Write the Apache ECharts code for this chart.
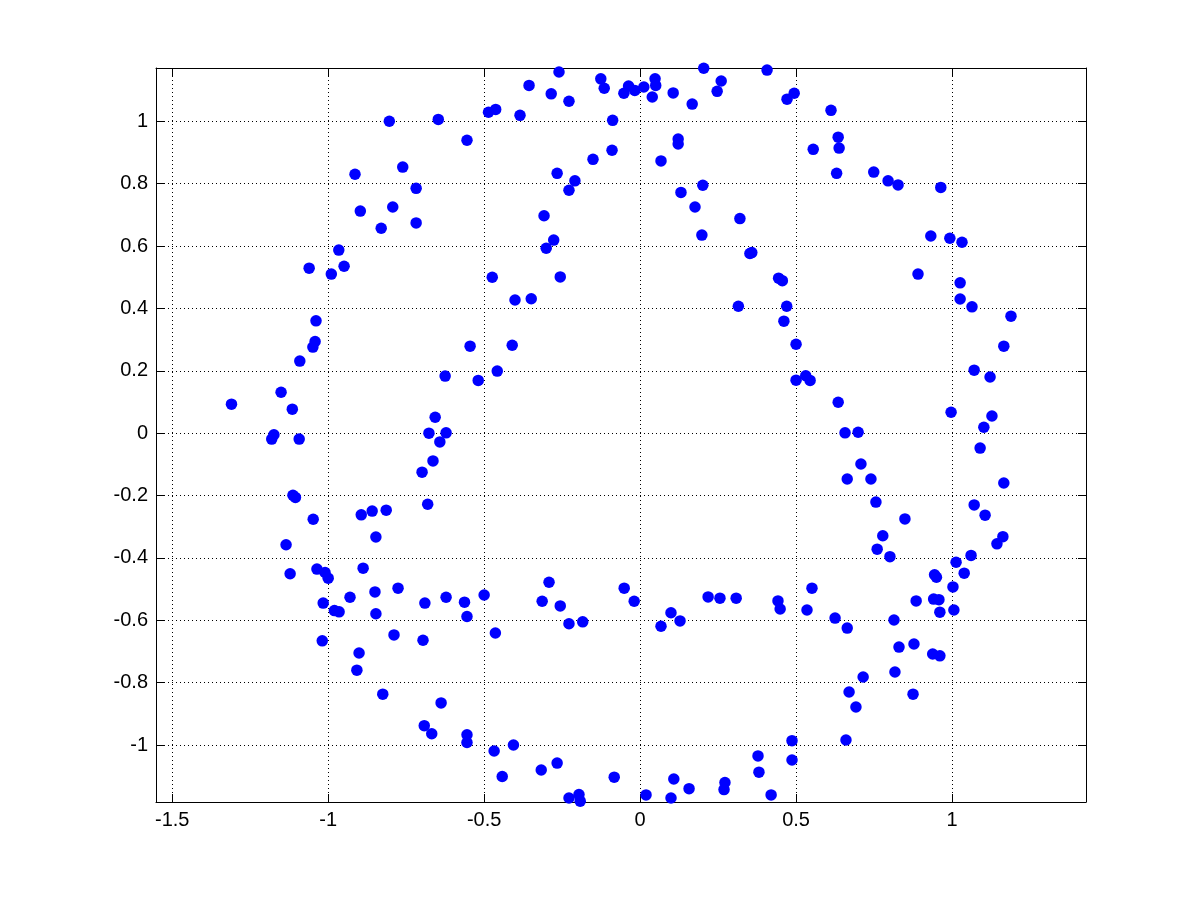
<!DOCTYPE html>
<html>
<head>
    <meta charset="utf-8">
    <script src="https://cdn.jsdelivr.net/npm/echarts@6/dist/echarts.min.js"></script>
    <style>
        html, body { margin: 0; padding: 0; background: #fff; }
    </style>
</head>
<body>
<div id="main" style="width: 1201px;height:901px;"></div>
<script type="text/javascript">
    // axis ranges and ticks
    var xRange = [-1.552, 1.4295];
    var yRange = [-1.1827, 1.1708];
    var xTicks = [-1.5, -1, -0.5, 0, 0.5, 1];
    var yTicks = [-1, -0.8, -0.6, -0.4, -0.2, 0, 0.2, 0.4, 0.6, 0.8, 1];

    // scattered points [x, y]
    var points = [
        [-0.804, 1.000], [-0.647, 1.006], [-0.555, 0.939], [-0.761, 0.853], [-0.914, 0.830],
        [-0.718, 0.785], [-0.793, 0.725], [-0.897, 0.712], [-0.830, 0.657], [-0.718, 0.674],
        [-0.966, 0.587], [-0.949, 0.535], [-1.061, 0.529], [-0.990, 0.510],
        [-0.260, 1.158], [-0.356, 1.115], [-0.285, 1.088], [-0.228, 1.064], [-0.126, 1.136],
        [-0.115, 1.106], [-0.037, 1.113], [-0.052, 1.090], [-0.017, 1.099], [0.012, 1.110],
        [0.048, 1.136], [0.050, 1.115], [0.039, 1.078], [0.106, 1.091], [0.167, 1.055],
        [0.204, 1.170], [0.260, 1.129], [0.247, 1.096], [0.407, 1.164], [0.471, 1.071],
        [0.494, 1.090], [-0.486, 1.029], [-0.463, 1.038], [-0.385, 1.019], [-0.088, 1.003],
        [0.122, 0.943], [0.122, 0.927], [-0.090, 0.907], [-0.151, 0.878], [0.067, 0.873],
        [-0.266, 0.833], [-0.209, 0.809], [-0.228, 0.779], [0.201, 0.795], [0.131, 0.772],
        [0.176, 0.725], [-0.308, 0.697], [0.320, 0.688], [-0.277, 0.619], [-0.301, 0.593],
        [0.198, 0.635], [0.352, 0.576], [0.358, 0.579], [-0.474, 0.500], [-0.401, 0.427],
        [-0.349, 0.431], [-0.256, 0.501], [0.315, 0.407], [0.444, 0.497], [0.456, 0.489],
        [0.470, 0.407],
        [0.612, 1.035], [0.635, 0.949], [0.638, 0.914], [0.555, 0.910], [0.630, 0.833],
        [0.749, 0.837], [0.795, 0.809], [0.827, 0.796], [0.964, 0.788], [0.932, 0.632],
        [0.993, 0.625], [1.032, 0.612], [0.891, 0.510], [1.026, 0.482], [1.026, 0.430],
        [1.064, 0.405],
        [-1.039, 0.360], [-1.042, 0.294], [-1.049, 0.276], [-1.091, 0.231], [-0.545, 0.279],
        [-0.625, 0.183], [-1.310, 0.093], [-1.151, 0.131], [-1.115, 0.077], [-1.174, -0.005],
        [-1.181, -0.019], [-1.093, -0.019], [-0.657, 0.051], [-0.677, 0.000], [-0.622, 0.001],
        [-0.642, -0.028], [-0.664, -0.089], [-0.699, -0.125], [-1.113, -0.199], [-1.105, -0.206],
        [-0.681, -0.228], [-1.048, -0.276], [-0.894, -0.262], [-0.859, -0.250], [-0.814, -0.247],
        [-0.847, -0.333], [-1.135, -0.358],
        [-0.410, 0.282], [-0.458, 0.199], [-0.519, 0.169], [0.461, 0.359],
        [1.189, 0.375], [0.500, 0.285], [1.166, 0.279], [0.500, 0.170], [0.531, 0.184],
        [0.545, 0.169], [1.071, 0.202], [1.122, 0.180], [0.635, 0.099], [0.997, 0.067],
        [1.128, 0.055], [1.102, 0.019], [0.657, 0.001], [0.699, 0.003], [1.090, -0.048],
        [0.708, -0.099], [0.664, -0.147], [0.740, -0.147], [1.166, -0.160], [0.756, -0.221],
        [0.849, -0.275], [1.071, -0.230], [1.106, -0.263], [0.778, -0.329], [0.760, -0.372],
        [0.801, -0.396], [1.163, -0.332], [1.144, -0.355], [1.061, -0.392],
        [-1.122, -0.451], [-1.036, -0.436], [-1.010, -0.447], [-1.000, -0.465], [-0.888, -0.433],
        [-1.016, -0.545], [-0.980, -0.569], [-0.965, -0.573], [-0.930, -0.526], [-0.850, -0.509],
        [-0.776, -0.497], [-0.847, -0.579], [-0.690, -0.545], [-0.622, -0.526], [-0.563, -0.542],
        [-0.555, -0.588], [-1.019, -0.666], [-0.789, -0.647], [-0.696, -0.664], [-0.901, -0.705],
        [-0.908, -0.760], [-0.825, -0.837], [-0.638, -0.865], [-0.692, -0.938], [-0.668, -0.964],
        [-0.555, -0.967], [-0.555, -0.992],
        [-0.500, -0.519], [-0.464, -0.641], [-0.292, -0.478], [-0.314, -0.539], [-0.256, -0.554],
        [-0.228, -0.611], [-0.184, -0.605], [-0.051, -0.497], [-0.019, -0.539], [0.099, -0.576],
        [0.067, -0.619], [0.128, -0.602], [0.218, -0.525], [0.256, -0.529], [0.308, -0.529],
        [0.442, -0.538], [0.449, -0.564], [-0.468, -1.019], [-0.406, -1.000], [-0.442, -1.101],
        [-0.317, -1.080], [-0.266, -1.058], [-0.228, -1.170], [-0.196, -1.159], [-0.192, -1.180],
        [-0.083, -1.103], [0.019, -1.160], [0.099, -1.170], [0.108, -1.109], [0.157, -1.140],
        [0.272, -1.120], [0.269, -1.143], [0.378, -1.035], [0.381, -1.087], [0.420, -1.160],
        [1.013, -0.414], [1.039, -0.449], [0.944, -0.454], [0.950, -0.462], [1.003, -0.493],
        [0.551, -0.497], [0.535, -0.567], [0.625, -0.593], [0.664, -0.625], [0.814, -0.599],
        [0.885, -0.538], [0.941, -0.532], [0.958, -0.534], [0.961, -0.574], [1.006, -0.567],
        [0.830, -0.686], [0.878, -0.676], [0.938, -0.708], [0.961, -0.714], [0.715, -0.782],
        [0.817, -0.766], [0.670, -0.830], [0.692, -0.878], [0.875, -0.837], [0.487, -0.986],
        [0.660, -0.984], [0.487, -1.048]
    ];

    var myChart = echarts.init(document.getElementById('main'));

    var labelFont = {
        color: '#000',
        fontFamily: 'Liberation Sans, Arial, sans-serif',
        fontSize: 20
    };
    var gridDots = { show: true, lineStyle: { color: '#000', width: 1, type: [1, 3] } };

    function makeAxis(range, ticks, pos, main) {
        return {
            type: 'value',
            position: pos,
            min: range[0],
            max: range[1],
            axisLine: { show: true, onZero: false, lineStyle: { color: '#000', width: 1 } },
            axisTick: { show: true, inside: true, length: 8, customValues: ticks, lineStyle: { color: '#000' } },
            axisLabel: main ? Object.assign({ show: true, margin: 8, customValues: ticks }, labelFont) : { show: false },
            splitLine: main ? gridDots : { show: false }
        };
    }

    var option = {
        animation: false,
        backgroundColor: '#fff',
        grid: {
            left: 156, right: 115, top: 68, bottom: 99,
            containLabel: false,
            outerBoundsMode: 'none'
        },
        xAxis: [
            makeAxis(xRange, xTicks, 'bottom', true),
            makeAxis(xRange, xTicks, 'top', false)
        ],
        yAxis: [
            makeAxis(yRange, yTicks, 'left', true),
            makeAxis(yRange, yTicks, 'right', false)
        ],
        series: [{
            type: 'scatter',
            xAxisIndex: 0,
            yAxisIndex: 0,
            symbol: 'circle',
            symbolSize: 11.5,
            itemStyle: { color: '#0000ff', opacity: 1 },
            data: points
        }]
    };

    myChart.setOption(option);
</script>
</body>
</html>
